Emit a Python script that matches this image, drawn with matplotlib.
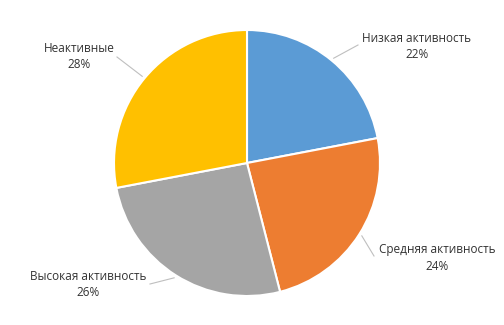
import numpy as np
import matplotlib
matplotlib.use("Agg")
import matplotlib.pyplot as plt

# Data
categories = ["Низкая активность", "Средняя активность", "Высокая активность", "Неактивные"]
shares = [22, 24, 26, 28]
colors = ["#5B9BD5", "#ED7D31", "#A5A5A5", "#FFC000"]

plt.rcParams['font.family'] = ['Open Sans', 'DejaVu Sans']

fig = plt.figure(figsize=(5.04, 3.25), dpi=100)
ax = fig.add_axes([0, 0, 1, 1])

cx, cy, r = 247, 162, 133
wedges, _ = ax.pie(shares, colors=colors, startangle=90, counterclock=False,
                   center=(cx, cy), radius=r, frame=True,
                   wedgeprops=dict(edgecolor="white", linewidth=1.5))
ax.set_xlim(0, 504)
ax.set_ylim(0, 325)
ax.set_aspect("equal")
ax.axis("off")

# label text centres and leader end points (pixel layout, y from top)
label_pos = [(417, 46), (437, 258), (88, 285), (79, 57)]
leader_end = [(358, 45), (374, 256), (150, 284), (117, 57)]

for w, name, val, (lx, ly), (ex, ey) in zip(wedges, categories, shares, label_pos, leader_end):
    ang = np.deg2rad((w.theta1 + w.theta2) / 2)
    sx = cx + (r + 3) * np.cos(ang)
    sy = cy + (r + 3) * np.sin(ang)
    ax.plot([sx, ex], [sy, 325 - ey], color="#BFBFBF", lw=0.8)
    ax.text(lx, 325 - ly, f"{name}\n{val}%", ha="center", va="center",
            fontsize=8.5, color="#333333", linespacing=1.3)

fig.savefig("out.png", dpi=100)
